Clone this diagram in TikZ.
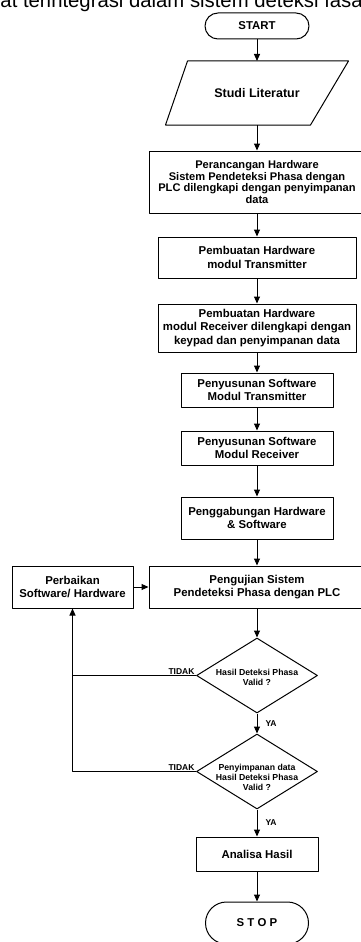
\documentclass[tikz,border=0pt]{standalone}
\usepackage{fontspec}
\setmainfont{Liberation Sans}
\usetikzlibrary{shapes.geometric,arrows.meta}
\begin{document}
\begin{tikzpicture}[x=1pt, y=-1pt, line width=1pt, line join=round, >={Triangle[length=7pt,width=6pt]},
		font=\fontsize{11.4}{13.5}\selectfont\bfseries,
		box/.style={draw, rectangle, align=center, inner sep=0pt},
		term/.style={draw, rectangle, inner sep=0pt},
		dec/.style={draw, diamond, aspect=1.61, inner sep=0pt, minimum width=121pt, minimum height=75pt},
		dectxt/.style={align=center, inner sep=0pt, font=\fontsize{8.7}{10}\selectfont\bfseries},
		lbl/.style={inner sep=1pt, font=\fontsize{8.5}{10}\selectfont\bfseries}]
	\useasboundingbox (0,0) rectangle (360,942);
	% potongan teks halaman di atas
	\node[anchor=base west, inner sep=0pt, font=\fontsize{20.3}{22}\selectfont\mdseries] (judul) at (0,8) {at terintegrasi dalam sistem deteksi fasa};
	\node[term, rounded corners=13pt, minimum width=104pt, minimum height=26pt] (start) at (257,26) {START};
	\node[rectangle, minimum width=160pt, minimum height=63pt, inner sep=0pt, font=\fontsize{12.5}{14}\selectfont\bfseries] (studi) at (257,93) {Studi Literatur};
	\draw ([xshift=-11pt]studi.south west) -- ([xshift=11pt]studi.north west) -- ([xshift=11pt]studi.north east) -- ([xshift=-27pt]studi.south east) -- cycle;
	\node[box, minimum width=216pt, minimum height=62pt, font=\fontsize{11.1}{11.4}\selectfont\bfseries] (rancang) at (257,182)
		{Perancangan Hardware\\Sistem Pendeteksi Phasa dengan\\PLC dilengkapi dengan penyimpanan\\data};
	\node[box, minimum width=198pt, minimum height=41pt] (hwtx) at (257,257.5) {Pembuatan Hardware\\modul Transmitter};
	\node[box, minimum width=198pt, minimum height=48pt] (hwrx) at (257,328) {Pembuatan Hardware\\modul Receiver dilengkapi dengan\\keypad dan penyimpanan data};
	\node[box, minimum width=152pt, minimum height=34pt] (swtx) at (257,390) {Penyusunan Software\\Modul Transmitter};
	\node[box, minimum width=152pt, minimum height=34pt] (swrx) at (257,448) {Penyusunan Software\\Modul Receiver};
	\node[box, minimum width=152pt, minimum height=42pt] (gabung) at (257,518) {Penggabungan Hardware\\\& Software};
	\node[box, minimum width=216pt, minimum height=42pt] (uji) at (257,587) {Pengujian Sistem\\Pendeteksi Phasa dengan PLC};
	\node[box, minimum width=121pt, minimum height=42pt] (perbaikan) at (72.5,587) {Perbaikan\\Software/ Hardware};
	\node[dec] (cek1) at (257,675.5) {};
	\node[dectxt] (cek1txt) at (257,677) {Hasil Deteksi Phasa\\Valid ?};
	\node[dec] (cek2) at (257,771.5) {};
	\node[dectxt] (cek2txt) at (257,777) {Penyimpanan data\\Hasil Deteksi Phasa\\Valid ?};
	\node[box, minimum width=122pt, minimum height=34pt] (analisa) at (257,854) {Analisa Hasil};
	\node[term, rounded corners=21pt, minimum width=103pt, minimum height=42pt] (stop) at (257,923) {S T O P};
	% alur utama
	\foreach \a/\b in {start/studi,studi/rancang,rancang/hwtx,hwtx/hwrx,hwrx/swtx,swtx/swrx,swrx/gabung,gabung/uji,uji/cek1,analisa/stop}
		\draw[->] (\a) -- (\b);
	\draw[->] (cek1) -- node[lbl, right=7pt] (ya1) {YA} (cek2);
	\draw[->] (cek2) -- node[lbl, right=7pt] (ya2) {YA} (analisa);
	% umpan balik
	\draw (cek1.west) node[lbl, above left] (tidak1) {TIDAK} -- (cek1.west -| perbaikan.south);
	\draw[->] (cek2.west) node[lbl, above left] (tidak2) {TIDAK} -- (cek2.west -| perbaikan.south) -- (perbaikan.south);
	\draw[->] (perbaikan) -- (uji);
\end{tikzpicture}
\end{document}
